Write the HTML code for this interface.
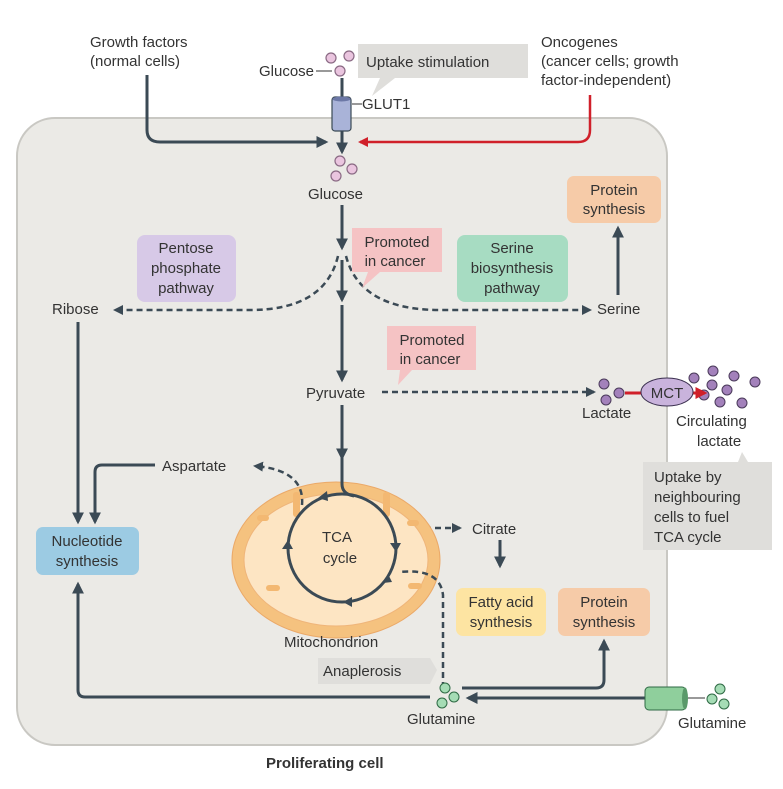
<!DOCTYPE html>
<html><head><meta charset="utf-8"><style>
html,body{margin:0;padding:0;background:#fff}
svg text{font-family:"Liberation Sans",sans-serif;font-size:15px;fill:#333}
</style></head><body>
<svg width="783" height="784" viewBox="0 0 783 784" xmlns="http://www.w3.org/2000/svg">
<defs>
<marker id="a" viewBox="0 0 10 10" refX="8" refY="5" markerWidth="4" markerHeight="4" orient="auto"><path d="M0,0L10,5L0,10z" fill="#3b4a55"/></marker>
<marker id="r" viewBox="0 0 10 10" refX="8" refY="5" markerWidth="4" markerHeight="4" orient="auto"><path d="M0,0L10,5L0,10z" fill="#d0202a"/></marker>
</defs>
<rect x="17" y="118" width="650" height="627" rx="38" fill="#ebeae6" stroke="#c9c8c3" stroke-width="2"/>
<g stroke="#3b4a55" stroke-width="3" fill="none">
<path d="M147,75 V130 Q147,142 160,142 H326" marker-end="url(#a)"/>
<path d="M342,78 V97"/>
<path d="M342,130 V152" marker-end="url(#a)"/>
<path d="M342,205 V248" marker-end="url(#a)"/>
<path d="M342,260 V300" marker-end="url(#a)"/>
<path d="M342,305 V380" marker-end="url(#a)"/>
<path d="M342,405 V458" marker-end="url(#a)"/>
<path d="M618,295 V228" marker-end="url(#a)"/>
<path d="M78,322 V522" marker-end="url(#a)"/>
<path d="M155,465 H102 Q95,465 95,472 V522" marker-end="url(#a)"/>
<path d="M500,540 V566" marker-end="url(#a)"/>
<path d="M430,697 H85 Q78,697 78,690 V584" marker-end="url(#a)"/>
<path d="M462,688 H596 Q604,688 604,680 V641" marker-end="url(#a)"/>
<path d="M645,698 H468" marker-end="url(#a)"/>
</g>
<path d="M590,95 V130 Q590,142 578,142 H360" stroke="#d0202a" stroke-width="2.5" fill="none" marker-end="url(#r)"/>
<g stroke="#3b4a55" stroke-width="2.5" fill="none" stroke-dasharray="6,4">
<path d="M338,256 Q325,310 250,310 H115" marker-end="url(#a)"/>
<path d="M346,256 Q360,310 440,310 H590" marker-end="url(#a)"/>
<path d="M382,392 H594" marker-end="url(#a)"/>
<path d="M395,528 H460" marker-end="url(#a)"/>
</g>
<text x="90" y="47">Growth factors</text><text x="90" y="66">(normal cells)</text>
<text x="259" y="76">Glucose</text>
<path d="M316,71 H332" stroke="#333" stroke-width="1"/>
<g fill="#eac5df" stroke="#8a6a84" stroke-width="1.2">
<circle cx="331" cy="58" r="5"/><circle cx="349" cy="56" r="5"/><circle cx="340" cy="71" r="5"/>
<circle cx="340" cy="161" r="5"/><circle cx="352" cy="169" r="5"/><circle cx="336" cy="176" r="5"/>
</g>
<path d="M358,44 H528 V78 H395 L372,96 L380,78 H358z" fill="#dfdedb"/>
<text x="366" y="67">Uptake stimulation</text>
<rect x="332" y="97" width="19" height="34" rx="3" fill="#a9b3d8" stroke="#3b4a55" stroke-width="1.2"/>
<ellipse cx="341.5" cy="99" rx="9" ry="2.5" fill="#6c78a6"/>
<path d="M352,104 H362" stroke="#333"/><text x="362" y="109">GLUT1</text>
<text x="541" y="47">Oncogenes</text><text x="541" y="66">(cancer cells; growth</text><text x="541" y="85">factor-independent)</text>
<text x="308" y="199">Glucose</text>
<rect x="567" y="176" width="94" height="47" rx="7" fill="#f6cba8"/>
<text x="614" y="195" text-anchor="middle">Protein</text><text x="614" y="214" text-anchor="middle">synthesis</text>
<rect x="137" y="235" width="99" height="67" rx="8" fill="#d7c9e7"/>
<text x="186" y="253" text-anchor="middle">Pentose</text><text x="186" y="273" text-anchor="middle">phosphate</text><text x="186" y="293" text-anchor="middle">pathway</text>
<path d="M352,228 H442 V272 H380 L362,288 L368,272 H352z" fill="#f5c3c4"/>
<text x="397" y="247" text-anchor="middle">Promoted</text><text x="395" y="266" text-anchor="middle">in cancer</text>
<rect x="457" y="235" width="111" height="67" rx="8" fill="#a7dcc2"/>
<text x="512" y="253" text-anchor="middle">Serine</text><text x="512" y="273" text-anchor="middle">biosynthesis</text><text x="512" y="293" text-anchor="middle">pathway</text>
<text x="52" y="314">Ribose</text><text x="597" y="314">Serine</text>
<path d="M387,326 H476 V370 H412 L398,385 L400,370 H387z" fill="#f5c3c4"/>
<text x="432" y="345" text-anchor="middle">Promoted</text><text x="430" y="364" text-anchor="middle">in cancer</text>
<text x="306" y="398">Pyruvate</text>
<g fill="#a381bb" stroke="#4a3a5a" stroke-width="1">
<circle cx="604" cy="384" r="5"/><circle cx="619" cy="393" r="5"/><circle cx="606" cy="400" r="5"/>
<circle cx="694" cy="378" r="5"/><circle cx="713" cy="371" r="5"/><circle cx="734" cy="376" r="5"/><circle cx="727" cy="390" r="5"/><circle cx="712" cy="385" r="5"/><circle cx="704" cy="395" r="5"/><circle cx="742" cy="403" r="5"/><circle cx="720" cy="402" r="5"/><circle cx="755" cy="382" r="5"/>
</g>
<path d="M625,393 H642" stroke="#d0202a" stroke-width="3"/>
<path d="M692,393 H705" stroke="#d0202a" stroke-width="3" marker-end="url(#r)"/>
<ellipse cx="667" cy="392" rx="26" ry="14" fill="#c9b3dc" stroke="#3b3050" stroke-width="1"/>
<text x="667" y="398" text-anchor="middle">MCT</text>
<text x="582" y="418">Lactate</text>
<text x="676" y="426">Circulating</text><text x="697" y="446">lactate</text>
<path d="M643,462 H738 L742,452 L748,462 H772 V550 H643z" fill="#dfdedb"/>
<text x="654" y="482">Uptake by</text><text x="654" y="502">neighbouring</text><text x="654" y="522">cells to fuel</text><text x="654" y="542">TCA cycle</text>
<ellipse cx="336" cy="560" rx="104" ry="78" fill="#f5c27f" stroke="#eba968" stroke-width="1"/>
<ellipse cx="336" cy="560" rx="92" ry="66" fill="#fde5c3" stroke="#efb57a" stroke-width="1"/>
<g fill="#f3b872">
<rect x="293" y="492" width="7" height="25" rx="3"/><rect x="383" y="492" width="7" height="25" rx="3"/>
<rect x="257" y="515" width="12" height="6" rx="3"/><rect x="407" y="520" width="12" height="6" rx="3"/>
<rect x="266" y="585" width="14" height="6" rx="3"/><rect x="408" y="583" width="14" height="6" rx="3"/>
</g>
<g stroke="#3b4a55" stroke-width="2.5" fill="none" stroke-dasharray="6,4">
<path d="M302,505 Q305,470 255,466" marker-end="url(#a)"/>
<path d="M443,688 V595 Q440,568 400,572"/>
</g>
<g stroke="#3b4a55" stroke-width="3" fill="none">
<circle cx="342" cy="548" r="54"/>
<path d="M342,455 V484 Q342,494 354,496"/>
</g>
<g fill="#3b4a55">
<path d="M318,498 l9,-7 l1,10z"/><path d="M396,552 l-6,-9 l11,0z"/><path d="M392,582 l-9,1 l5,-9z"/><path d="M343,602 l9,-5 l0,10z"/><path d="M288,540 l5,9 l-11,0z"/>
</g>
<text x="337" y="542" text-anchor="middle">TCA</text><text x="340" y="563" text-anchor="middle">cycle</text>
<text x="162" y="471">Aspartate</text>
<text x="472" y="534">Citrate</text>
<rect x="36" y="527" width="103" height="48" rx="7" fill="#9ccbe3"/>
<text x="87" y="546" text-anchor="middle">Nucleotide</text><text x="87" y="566" text-anchor="middle">synthesis</text>
<rect x="456" y="588" width="90" height="48" rx="7" fill="#fde4a2"/>
<text x="501" y="607" text-anchor="middle">Fatty acid</text><text x="501" y="627" text-anchor="middle">synthesis</text>
<rect x="558" y="588" width="92" height="48" rx="7" fill="#f6cba8"/>
<text x="604" y="607" text-anchor="middle">Protein</text><text x="604" y="627" text-anchor="middle">synthesis</text>
<text x="284" y="647">Mitochondrion</text>
<path d="M318,658 H430 L437,670 L430,684 H318z" fill="#dfdedb"/>
<text x="323" y="676">Anaplerosis</text>
<g fill="#a5dcb5" stroke="#2f6a45" stroke-width="1">
<circle cx="445" cy="688" r="5"/><circle cx="454" cy="697" r="5"/><circle cx="442" cy="703" r="5"/>
<circle cx="720" cy="689" r="5"/><circle cx="712" cy="699" r="5"/><circle cx="724" cy="704" r="5"/>
</g>
<text x="407" y="724">Glutamine</text><text x="678" y="728">Glutamine</text>
<rect x="645" y="687" width="41" height="23" rx="4" fill="#8fcf9c" stroke="#2f6a45" stroke-width="1"/>
<ellipse cx="685" cy="698.5" rx="3" ry="11" fill="#5a9a6a"/>
<path d="M688,698 H705" stroke="#333"/>
<text x="266" y="768" style="font-weight:bold">Proliferating cell</text>
</svg>
</body></html>
